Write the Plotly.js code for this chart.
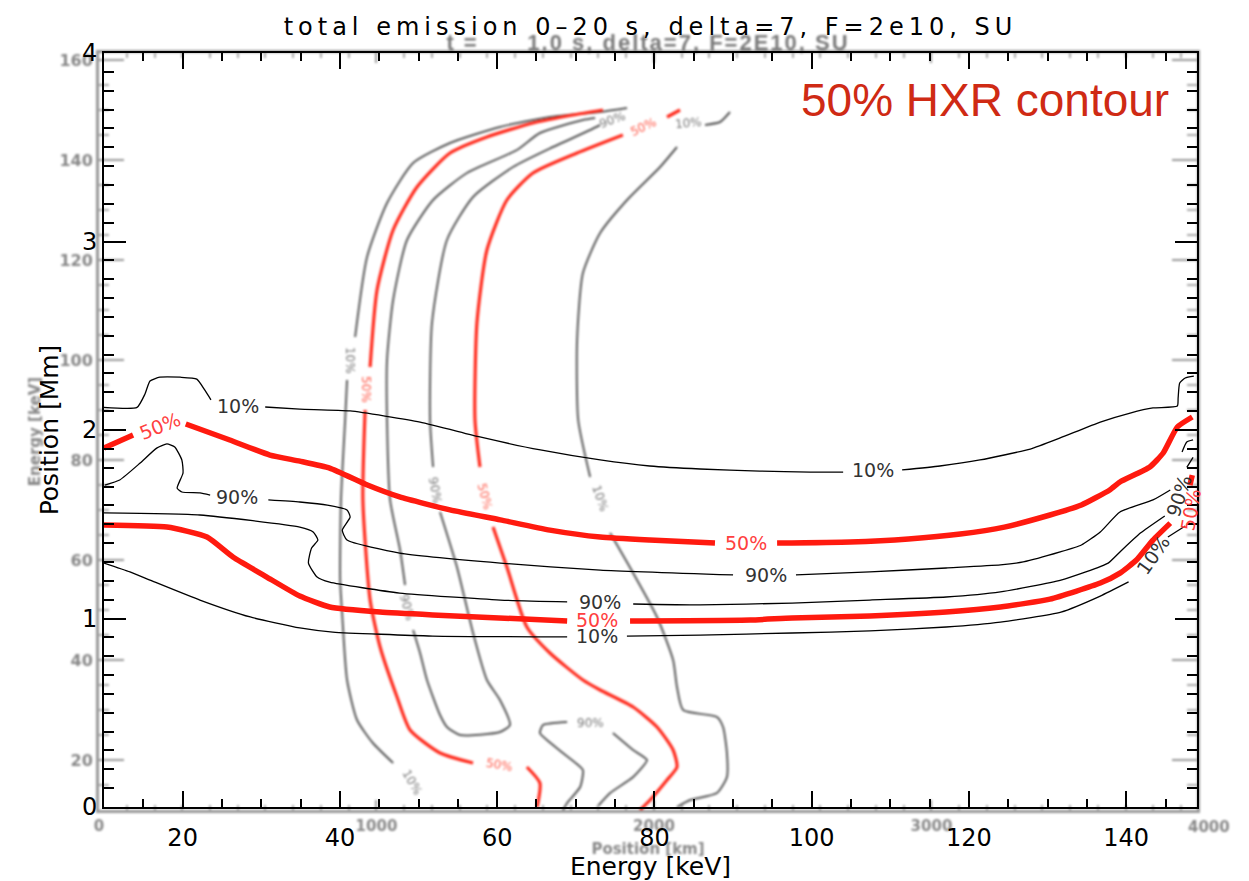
<!DOCTYPE html>
<html>
<head>
<meta charset="utf-8">
<script src="https://cdn.plot.ly/plotly-3.0.1.min.js"></script>
<style>
  html, body { margin: 0; padding: 0; background: #fff; }
  #wrap { position: relative; width: 1249px; height: 881px; }
  #timeSlice, #totalEmission { position: absolute; left: 0; top: 0; width: 1249px; height: 881px; }
  #timeSlice { filter: blur(0.8px); }
  #timeSlice .gtitle { letter-spacing: 2px; }
  #totalEmission .gtitle { letter-spacing: 5px; }
</style>
</head>
<body>
<div id="wrap">
  <div id="timeSlice"></div>
  <div id="totalEmission"></div>
</div>
<script>
// ---------------------------------------------------------------
// Total emission 0-20 s: contours of Position [Mm] vs Energy [keV]
// each contour is split into pieces where its labels sit
// ---------------------------------------------------------------
const tot10UpE = [
  [10, 14.2, 15.2, 15.85, 17.1, 19.7, 21.8, 22.85, 23.6],
  [30.5, 34.9, 41.3, 50.2, 57.8, 65.5, 73.1, 79.4, 85.8, 93.4, 99.8, 104.0],
  [111.5, 116.3, 121.4, 127.8, 131.6, 136.7, 140.5, 143.4, 146.5, 146.6, 146.8, 147.5, 148.6]
];
const tot10UpP = [
  [2.12, 2.12, 2.19, 2.26, 2.28, 2.28, 2.27, 2.21, 2.16],
  [2.122, 2.111, 2.101, 2.042, 1.963, 1.894, 1.841, 1.809, 1.793, 1.782, 1.777, 1.777],
  [1.788, 1.809, 1.841, 1.899, 1.958, 2.042, 2.090, 2.117, 2.127, 2.170, 2.249, 2.276, 2.286]
];

const tot50UpE = [
  [10, 13.7],
  [20.4, 26.0, 31.1, 34.9, 38.7, 43.5, 47.6, 54.0, 60.4, 66.7, 73.1, 79.4, 87.7],
  [95.6, 104.9, 112.3, 118.9, 124.5, 130.3, 134.3, 137.9, 139.2, 143.0, 144.7, 146.5, 148.4]
];
const tot50UpP = [
  [1.904, 1.973],
  [2.032, 1.947, 1.867, 1.835, 1.798, 1.708, 1.645, 1.576, 1.523, 1.469, 1.432, 1.416, 1.400],
  [1.400, 1.406, 1.422, 1.448, 1.485, 1.549, 1.602, 1.682, 1.724, 1.804, 1.878, 2.016, 2.069]
];

const tot90UpE = [
  [10.1, 12.0, 14.6, 16.7, 18.0, 19.0, 19.9, 20.05, 19.3, 19.9, 22.2, 23.5],
  [30.9, 34.9, 38.4, 40.9, 41.3, 40.3, 40.9, 47.6, 60.4, 73.1, 90.0],
  [98.0, 107.4, 117.1, 124.0, 126.9, 131.6, 134.3, 136.7, 139.2, 143.4, 145.6],
  [147.1, 147.7, 148.5]
];
const tot90UpP = [
  [1.708, 1.735, 1.825, 1.904, 1.926, 1.910, 1.841, 1.772, 1.692, 1.671, 1.666, 1.655],
  [1.629, 1.618, 1.602, 1.576, 1.538, 1.469, 1.416, 1.347, 1.294, 1.257, 1.231],
  [1.231, 1.247, 1.268, 1.284, 1.300, 1.353, 1.390, 1.459, 1.565, 1.629, 1.682],
  [1.883, 1.936, 1.947]
];

const tot90LowE = [
  [10, 22.2, 34.9, 36.6, 37.2, 36.4, 36.0, 37.1, 38.7, 47.6, 60.4, 68.9],
  [77.3, 85.8, 97.5, 107.4, 117.1, 124.0, 131.7, 137.7, 139.2, 141.8, 144.9],
  [147.7, 148.5]
];
const tot90LowP = [
  [1.560, 1.549, 1.485, 1.459, 1.416, 1.374, 1.294, 1.220, 1.193, 1.135, 1.098, 1.088],
  [1.077, 1.072, 1.082, 1.098, 1.114, 1.141, 1.204, 1.294, 1.353, 1.453, 1.544],
  [1.802, 1.855]
];

const tot50LowE = [
  [10, 18.0, 23.1, 26.4, 30.7, 34.9, 38.7, 45.1, 51.8, 68.9],
  [76.9, 92.2, 97.5, 107.4, 117.1, 124.0, 130.3, 136.7, 139.2, 141.3, 143.4, 145.6],
  [148.1, 148.4]
];
const tot50LowP = [
  [1.496, 1.485, 1.432, 1.326, 1.220, 1.119, 1.061, 1.034, 1.019, 0.987],
  [0.987, 0.992, 1.003, 1.013, 1.034, 1.061, 1.103, 1.188, 1.241, 1.310, 1.416, 1.506],
  [1.708, 1.761]
];

const tot10LowE = [
  [10, 13.3, 15.85, 22.2, 28.6, 34.9, 39.1, 51.8, 68.9],
  [76.5, 85.8, 97.5, 107.4, 117.1, 124.0, 131.7, 136.7, 140.3],
  [145.3, 147.5]
];
const tot10LowP = [
  [1.294, 1.247, 1.204, 1.098, 1.008, 0.950, 0.928, 0.907, 0.902],
  [0.907, 0.912, 0.923, 0.934, 0.955, 0.981, 1.034, 1.119, 1.194],
  [1.432, 1.491]
];

// contour labels of the total-emission map
const totLabelText  = ['10%', '50%', '90%', '10%', '50%', '90%', '90%', '50%', '10%', '10%', '90%', '50%'];
const totLabelE     = [27.0, 17.1, 26.9, 107.8, 91.65, 94.2, 73.1, 72.7, 72.7, 143.4, 146.7, 148.2];
const totLabelP     = [2.127, 2.021, 1.644, 1.788, 1.400, 1.231, 1.088, 0.992, 0.907, 1.337, 1.650, 1.575];
const totLabelAngle = [0, -22, 0, 0, 0, 0, 0, 0, 0, -55, -72, -80];

// ---------------------------------------------------------------
// Single time slice t = 1.0 s: contours of Energy [keV] vs Position [km]
// ---------------------------------------------------------------
const sl10LeftKm = [
  [1903, 1806, 1625, 1445, 1265, 1132, 1038, 966, 923],
  [894, 887, 872, 869, 876, 894, 930, 987, 1060]
];
const sl10LeftE = [
  [150.4, 149.6, 148.6, 146.6, 143.4, 139.4, 131.4, 120.6, 104.6],
  [96, 88, 72, 56, 49.4, 36, 28, 23.4, 19.4]
];

const sl50LeftKm = [
  [1816, 1708, 1564, 1398, 1265, 1146, 1060, 1002, 977],
  [959, 951, 977, 1013, 1074, 1121, 1229, 1348],
  [1542, 1589, 1579]
];
const sl50LeftE = [
  [150, 149, 147.4, 144.6, 141.4, 134.6, 126, 114, 98.6],
  [90, 72, 52, 42.6, 32.6, 26, 21.4, 19.4],
  [18.6, 15.4, 10.6]
];

const sl90LoopKm = [
  [1788, 1744, 1589, 1506, 1326, 1204, 1110, 1060, 1038, 1038, 1049, 1085, 1103],
  [1132, 1157, 1182, 1229, 1254, 1301, 1445, 1481, 1445, 1398, 1348, 1290, 1229],
  [1204, 1193, 1200, 1254, 1348, 1492, 1636, 1770, 1806]
];
const sl90LoopE = [
  [148.4, 148, 145.4, 142, 137.4, 132, 124, 112, 100, 88, 72, 62, 55],
  [46, 41.4, 36, 29, 26.6, 25, 25.6, 27, 32, 36, 45.4, 58.6, 69.6],
  [78.6, 88, 107.4, 124, 132.6, 138.6, 142.6, 146, 147]
];

const sl50RightKm = [
  [2094, 2047],
  [1888, 1723, 1564, 1470, 1398, 1362, 1355, 1373],
  [1420, 1470, 1542, 1625, 1744, 1806, 1925, 2011, 2069, 2083, 2047, 1986, 1950]
];
const sl50RightE = [
  [150, 148.6],
  [145, 141.4, 137.4, 132, 122, 107.4, 88, 78.6],
  [66.6, 58.6, 46.6, 41.4, 36, 34, 30.6, 26.6, 22, 18.6, 16, 12, 10]
];

const sl10RightKm = [
  [2274, 2238, 2184],
  [2083, 2022, 1903, 1806, 1744, 1723, 1727, 1770],
  [1842, 1925, 2011, 2069, 2083, 2105, 2227, 2249, 2263, 2263, 2227, 2130, 2083]
];
const sl10RightE = [
  [149.6, 147.6, 147],
  [142.6, 138.6, 132, 125.4, 117.4, 104, 88, 76.6],
  [65.4, 57.4, 48.6, 40, 34.6, 30, 28.6, 26.6, 21.4, 16.6, 13.4, 12, 10.6]
];

const sl90FootKm = [
  [1687, 1600, 1589, 1672, 1744, 1734, 1687, 1672],
  [1852, 1925, 1975, 1925, 1842, 1795]
];
const sl90FootE = [
  [27.6, 27, 25.4, 21.4, 18, 14.6, 11.4, 10],
  [25.4, 22, 20, 16.6, 13.4, 10.6]
];

const slLabelText  = ['10%', '50%', '90%', '50%', '10%', '90%', '10%', '50%', '90%', '90%', '50%', '10%'];
const slLabelKm    = [905, 962, 1211, 1391, 1806, 1110, 1128, 1445, 1770, 1849, 1961, 2123];
const slLabelE     = [100, 94, 74, 72.6, 72.4, 50.6, 15.6, 19, 27.4, 148, 146.6, 147.4];
const slLabelAngle = [90, 90, 80, 75, 70, 75, 60, 10, 0, -20, -25, -5];

// axis ranges and ticks
const totRangeE = [10, 149];
const totRangeP = [0, 4];
const slRangeKm = [0, 3957];
const slRangeE  = [10, 161.4];
const slTickKm  = [0, 1000, 2000, 3000, 4000];
const slTickE   = [20, 40, 60, 80, 100, 120, 140, 160];

// ---------------------------------------------------------------
const RED = '#ff1a0f';
const INK = '#000';
const crispFont = 'DejaVu Sans, sans-serif';

function segTraces(xs, ys, color, width, smooth) {
  return xs.map((x, i) => ({
    type: 'scatter', mode: 'lines', x: x, y: ys[i],
    line: { color: color, width: width, shape: 'spline', smoothing: smooth },
    hoverinfo: 'skip', showlegend: false
  }));
}

// ---------- time slice layer (soft, underneath) ----------
const SL_GRAY = '#5a5a5a';
const SL_RED = '#ff2a1c';
const sliceTraces = [].concat(
  segTraces(sl10LeftKm, sl10LeftE, SL_GRAY, 2, 0.6),
  segTraces(sl90LoopKm, sl90LoopE, SL_GRAY, 2, 0.6),
  segTraces(sl90FootKm, sl90FootE, SL_GRAY, 2, 0.5),
  segTraces(sl10RightKm, sl10RightE, SL_GRAY, 2, 0.6),
  segTraces(sl50LeftKm, sl50LeftE, SL_RED, 3.2, 0.6),
  segTraces(sl50RightKm, sl50RightE, SL_RED, 3.2, 0.6)
);

const sliceAnn = slLabelText.map((t, i) => ({
  x: slLabelKm[i], y: slLabelE[i], xref: 'x', yref: 'y', showarrow: false,
  text: t, textangle: slLabelAngle[i],
  font: { family: 'DejaVu Sans, sans-serif', size: 12, color: t === '50%' ? '#ff5a4a' : '#777' }
}));
// the last position label sits just past the axis end
sliceAnn.push({
  x: slTickKm[4] / slRangeKm[1], y: -0.0225, xref: 'paper', yref: 'paper',
  xanchor: 'center', yanchor: 'middle', showarrow: false, text: String(slTickKm[4]),
  font: { family: 'DejaVu Sans, sans-serif', size: 15, color: '#888', weight: 'bold' }
});

const sliceLayout = {
  width: 1249, height: 881,
  margin: { l: 99, r: 52, t: 53, b: 71 },
  paper_bgcolor: '#fff', plot_bgcolor: '#fff',
  showlegend: false,
  title: {
    text: 't =\u00a0\u00a0\u00a0\u00a0\u00a0 1.0 s, delta=7, F=2E10, SU',
    x: 0.5, xref: 'paper', xanchor: 'center',
    y: 1 - 42 / 881, yref: 'container', yanchor: 'middle',
    font: { family: 'Liberation Sans, Arial, sans-serif', size: 22, color: '#7a7a7a', weight: 'bold' }
  },
  xaxis: {
    range: slRangeKm, tickvals: slTickKm.slice(0, 4), ticks: 'inside', ticklen: 10, tickwidth: 2,
    tickcolor: '#999', showline: true, linewidth: 3, linecolor: '#999', mirror: 'ticks',
    showgrid: false, zeroline: false,
    minor: { dtick: 100, ticks: 'inside', ticklen: 5, tickwidth: 2, tickcolor: '#aaa', showgrid: false },
    tickfont: { family: 'DejaVu Sans, sans-serif', size: 15, color: '#888', weight: 'bold' },
    title: { text: 'Position [km]', standoff: 10,
      font: { family: 'DejaVu Sans, sans-serif', size: 15, color: '#888', weight: 'bold' } }
  },
  yaxis: {
    range: slRangeE, tickvals: slTickE, ticks: 'inside', ticklen: 25, tickwidth: 2,
    tickcolor: '#999', showline: true, linewidth: 3, linecolor: '#999', mirror: 'ticks',
    showgrid: false, zeroline: false,
    minor: { dtick: 5, tick0: 0, ticks: 'inside', ticklen: 10, tickwidth: 2, tickcolor: '#aaa', showgrid: false },
    tickfont: { family: 'DejaVu Sans, sans-serif', size: 16, color: '#888', weight: 'bold' },
    title: { text: 'Energy [keV]', standoff: 16,
      font: { family: 'DejaVu Sans, sans-serif', size: 15, color: '#888', weight: 'bold' } }
  },
  annotations: sliceAnn
};

// ---------- total emission layer (sharp, on top) ----------
const totTraces = [].concat(
  segTraces(tot10UpE, tot10UpP, INK, 1.3, 0.5),
  segTraces(tot90UpE, tot90UpP, INK, 1.3, 0.5),
  segTraces(tot90LowE, tot90LowP, INK, 1.3, 0.5),
  segTraces(tot10LowE, tot10LowP, INK, 1.3, 0.5),
  segTraces(tot50UpE, tot50UpP, RED, 5.5, 0.5),
  segTraces(tot50LowE, tot50LowP, RED, 5.5, 0.5)
);

const totAnn = totLabelText.map((t, i) => ({
  x: totLabelE[i], y: totLabelP[i], xref: 'x', yref: 'y', showarrow: false,
  text: t, textangle: totLabelAngle[i],
  font: { family: crispFont, size: 19, color: t === '50%' ? '#ff4040' : '#333' }
}));
totAnn.push({
  x: 0.806, y: 0.9377, xref: 'paper', yref: 'paper', xanchor: 'center', yanchor: 'middle',
  showarrow: false, text: '50% HXR contour',
  font: { family: 'Liberation Sans, Arial, sans-serif', size: 46, color: '#cf2a14' }
});

const totLayout = {
  width: 1249, height: 881,
  margin: { l: 104, r: 52, t: 53, b: 74 },
  paper_bgcolor: 'rgba(0,0,0,0)', plot_bgcolor: 'rgba(0,0,0,0)',
  showlegend: false,
  title: {
    text: 'total emission 0\u201320 s, delta=7, F=2e10, SU',
    x: 0.5, xref: 'paper', xanchor: 'center',
    y: 1 - 27 / 881, yref: 'container', yanchor: 'middle',
    font: { family: crispFont, size: 24, color: INK }
  },
  xaxis: {
    range: totRangeE, tick0: 0, dtick: 20, ticks: 'inside', ticklen: 16, tickwidth: 2,
    tickcolor: INK, showline: true, linewidth: 2, linecolor: INK, mirror: 'ticks',
    showgrid: false, zeroline: false, ticklabelstandoff: 8,
    minor: { dtick: 5, tick0: 0, ticks: 'inside', ticklen: 8, tickwidth: 2, tickcolor: INK, showgrid: false },
    tickfont: { family: crispFont, size: 24, color: INK },
    title: { text: 'Energy [keV]', standoff: 2, font: { family: crispFont, size: 25, color: INK } }
  },
  yaxis: {
    range: totRangeP, tick0: 0, dtick: 1, ticks: 'inside', ticklen: 22, tickwidth: 2,
    tickcolor: INK, showline: true, linewidth: 2, linecolor: INK, mirror: 'ticks',
    showgrid: false, zeroline: false,
    minor: { dtick: 0.1, tick0: 0, ticks: 'inside', ticklen: 10, tickwidth: 2, tickcolor: INK, showgrid: false },
    tickfont: { family: crispFont, size: 24, color: INK },
    title: { text: 'Position [Mm]', standoff: 16, font: { family: crispFont, size: 25, color: INK } }
  },
  annotations: totAnn
};

const cfg = { staticPlot: true, displayModeBar: false };
Plotly.newPlot('timeSlice', sliceTraces, sliceLayout, cfg);
Plotly.newPlot('totalEmission', totTraces, totLayout, cfg);
</script>
</body>
</html>
